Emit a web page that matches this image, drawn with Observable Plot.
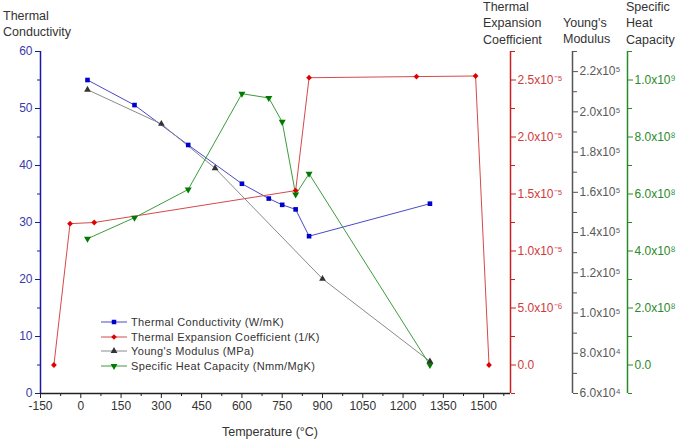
<!DOCTYPE html>
<html><head><meta charset="utf-8">
<script src="https://cdn.jsdelivr.net/npm/d3@7"></script>
<script src="https://cdn.jsdelivr.net/npm/@observablehq/plot@0.6"></script>
<style>
body{margin:0;background:#fff;font-family:"Liberation Sans",Arial,sans-serif;}
#wrap{position:relative;width:685px;height:443px;overflow:hidden;}
#wrap svg{position:absolute;left:0;top:0;}
.t{position:absolute;font-size:12.5px;line-height:16.3px;color:#333;white-space:nowrap;}
#legend{position:absolute;left:100px;top:315px;font-size:11px;letter-spacing:0.35px;color:#333;}
#legend .row{height:14.6px;display:flex;align-items:center;}
#legend svg{position:static;margin-right:3px;}
</style></head><body><div id="wrap"></div>
<script>
// ---- data ----
const conductivityT = [25, 200, 400, 600, 700, 750, 800, 850, 1300];
const conductivity  = [55, 50.6, 43.6, 36.8, 34.2, 33.1, 32.3, 27.6, 33.3];
const expansionT = [-100, -40, 50, 800, 850, 1250, 1470, 1520];
const expansion  = [0, 1.24e-5, 1.25e-5, 1.53e-5, 2.52e-5, 2.53e-5, 2.535e-5, 0];
const modulusT = [25, 300, 500, 900, 1300];
const modulus  = [2.11e5, 1.94e5, 1.72e5, 1.17e5, 7.6e4];
const heatT = [25, 200, 400, 600, 700, 750, 800, 850, 1300];
const heat  = [4.43e8, 5.17e8, 6.16e8, 9.52e8, 9.37e8, 8.53e8, 5.98e8, 6.71e8, 0];

// ---- axes ----
const xDomain = [-150, 1600];
const xTicks = [-150, 0, 150, 300, 450, 600, 750, 900, 1050, 1200, 1350, 1500];
const xMinor = [-75, 75, 225, 375, 525, 675, 825, 975, 1125, 1275, 1425, 1575];
const conductivityDomain = [0, 60];
const conductivityTicks = [0, 10, 20, 30, 40, 50, 60];
const conductivityMinor = [5, 15, 25, 35, 45, 55];
const expansionDomain = [-2.5e-6, 2.75e-5];
const expansionTicks = [0, 5e-6, 1e-5, 1.5e-5, 2e-5, 2.5e-5];
const expansionLabels = ["0.0", "5.0x10⁻⁶", "1.0x10⁻⁵", "1.5x10⁻⁵", "2.0x10⁻⁵", "2.5x10⁻⁵"];
const expansionMinor = [-2.5e-6, 2.5e-6, 7.5e-6, 1.25e-5, 1.75e-5, 2.25e-5, 2.75e-5];
const modulusDomain = [6e4, 2.3e5];
const modulusTicks = [6e4, 8e4, 1e5, 1.2e5, 1.4e5, 1.6e5, 1.8e5, 2e5, 2.2e5];
const modulusLabels = ["6.0x10⁴", "8.0x10⁴", "1.0x10⁵", "1.2x10⁵", "1.4x10⁵", "1.6x10⁵", "1.8x10⁵", "2.0x10⁵", "2.2x10⁵"];
const modulusMinor = [7e4, 9e4, 1.1e5, 1.3e5, 1.5e5, 1.7e5, 1.9e5, 2.1e5, 2.3e5];
const heatDomain = [-1e8, 1.1e9];
const heatTicks = [0, 2e8, 4e8, 6e8, 8e8, 1e9];
const heatLabels = ["0.0", "2.0x10⁸", "4.0x10⁸", "6.0x10⁸", "8.0x10⁸", "1.0x10⁹"];
const heatMinor = [-1e8, 1e8, 3e8, 5e8, 7e8, 9e8, 1.1e9];

const seriesNames = ["Thermal Conductivity (W/mK)", "Thermal Expansion Coefficient (1/K)", "Young's Modulus (MPa)", "Specific Heat Capacity (Nmm/MgK)"];
const lineColors = ["#4a4ac8", "#d44a4a", "#8a8a8a", "#3c9c3c"];
const markColors = ["#0000cc", "#e00000", "#333333", "#007a00"];
const symbols = ["square", "diamond2", "triangle", "triangle"];
const rotations = [0, 0, 0, 180];
const axisColors = ["#1a1aa0", "#cc2020", "#555555", "#2a8a2a"];
const labelColors = ["#3a3aa8", "#d03a3a", "#5a5a5a", "#2a8a2a"];

// map secondary series onto primary (0..60) coordinate
const toY = dom => v => (v - dom[0]) / (dom[1] - dom[0]) * (conductivityDomain[1] - conductivityDomain[0]) + conductivityDomain[0];
const rows = (xs, ys, f) => xs.map((x, i) => ({x, y: f(ys[i])}));
const sets = [
  rows(conductivityT, conductivity, v => v),
  rows(expansionT, expansion, toY(expansionDomain)),
  rows(modulusT, modulus, toY(modulusDomain)),
  rows(heatT, heat, toY(heatDomain))
];

function secAxis(ticks, labels, minor, dom, color, lcolor, dx) {
  const f = toY(dom);
  const pos = ticks.map(f);
  const lab = new Map(pos.map((p, i) => [p, labels[i]]));
  return [
    Plot.ruleX([xDomain[1]], {dx, stroke: color, strokeWidth: 1.5}),
    Plot.axisY(pos, {anchor: "right", dx, label: null, tickSize: 5, tickPadding: 2, stroke: color, fill: lcolor, fontSize: 12, tickFormat: d => lab.get(d)}),
    Plot.axisY(minor.map(f), {anchor: "right", dx, label: null, tickSize: 4, stroke: color, tickFormat: () => ""})
  ];
}

const marks = [
  Plot.ruleY([conductivityDomain[0]], {stroke: "#222", strokeWidth: 1.5}),
  Plot.axisX(xTicks, {anchor: "bottom", label: null, tickSize: 5, tickPadding: 3, fontSize: 12, color: "#333", stroke: "#222", tickFormat: d => String(d)}),
  Plot.axisX(xMinor, {anchor: "bottom", label: null, tickSize: 3, stroke: "#222", tickFormat: () => ""}),
  Plot.ruleX([xDomain[0]], {stroke: axisColors[0], strokeWidth: 1.5}),
  Plot.axisY(conductivityTicks, {anchor: "left", label: null, tickSize: 5, tickPadding: 3, fontSize: 12, stroke: axisColors[0], fill: labelColors[0], tickFormat: d => String(d)}),
  Plot.axisY(conductivityMinor, {anchor: "left", label: null, tickSize: 3, stroke: axisColors[0], tickFormat: () => ""}),
  ...secAxis(expansionTicks, expansionLabels, expansionMinor, expansionDomain, axisColors[1], labelColors[1], 0),
  ...secAxis(modulusTicks, modulusLabels, modulusMinor, modulusDomain, axisColors[2], labelColors[2], 62),
  ...secAxis(heatTicks, heatLabels, heatMinor, heatDomain, axisColors[3], labelColors[3], 117)
];
sets.forEach((s, i) => {
  marks.push(Plot.line(s, {x: "x", y: "y", stroke: lineColors[i], strokeWidth: 1}));
});
const radii = [2.6, 2.6, 2.5, 2.6];
sets.forEach((s, i) => {
  marks.push(Plot.dot(s, {x: "x", y: "y", symbol: symbols[i], rotate: rotations[i], r: radii[i], fill: markColors[i], stroke: "none"}));
});

const chart = Plot.plot({
  width: 685, height: 443,
  marginLeft: 40, marginRight: 175, marginTop: 51, marginBottom: 50,
  style: {fontFamily: "'Liberation Sans', Arial, sans-serif", background: "white", overflow: "visible"},
  x: {domain: xDomain, axis: null},
  y: {domain: conductivityDomain, axis: null},
  marks
});
const wrap = document.getElementById("wrap");
wrap.appendChild(chart);

// titles
const titles = [
  {text: "Thermal<br>Conductivity", left: 3, top: 8},
  {text: "Thermal<br>Expansion<br>Coefficient", left: 483, top: -1},
  {text: "Young's<br>Modulus", left: 563, top: 15},
  {text: "Specific<br>Heat<br>Capacity", left: 626, top: -1}
];
titles.forEach(t => {
  const d = document.createElement("div");
  d.className = "t"; d.innerHTML = t.text;
  d.style.left = t.left + "px"; d.style.top = t.top + "px";
  wrap.appendChild(d);
});
const xt = document.createElement("div");
xt.className = "t"; xt.textContent = "Temperature (°C)";
xt.style.left = "222px"; xt.style.top = "424px"; xt.style.fontSize = "12.5px";
wrap.appendChild(xt);

// legend
const lg = document.createElement("div");
lg.id = "legend";
const symMap = {square: d3.symbolSquare, diamond2: d3.symbolDiamond2, triangle: d3.symbolTriangle};
seriesNames.forEach((name, i) => {
  const r = document.createElement("div");
  r.className = "row";
  const sym = d3.symbol(symMap[symbols[i]], i === 0 ? 20 : 20)();
  r.innerHTML = `<svg width="28" height="10"><line x1="1" x2="27" y1="5" y2="5" stroke="${lineColors[i]}" stroke-width="1"/><path d="${sym}" transform="translate(14,5) rotate(${rotations[i]})" fill="${markColors[i]}"/></svg><span>${name}</span>`;
  lg.appendChild(r);
});
wrap.appendChild(lg);
</script></body></html>
